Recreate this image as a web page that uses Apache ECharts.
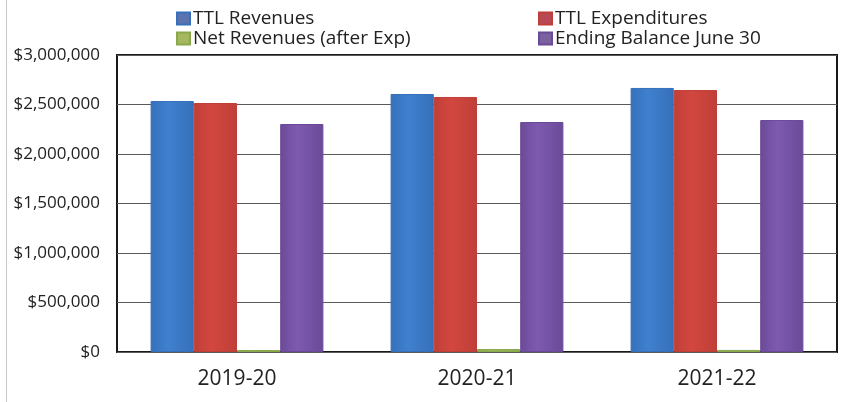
<!DOCTYPE html>
<html>
<head>
<meta charset="utf-8">
<script src="https://cdn.jsdelivr.net/npm/echarts@6/dist/echarts.min.js"></script>
<style>
  html, body { margin: 0; padding: 0; background: #fff; }
  #chart { width: 843px; height: 402px; }
</style>
</head>
<body>
<div id="chart"></div>
<script>
// fiscal years on the x axis
const years = ['2019-20', '2020-21', '2021-22'];

// values (dollars)
const ttlRevenues = [2535000, 2606000, 2667000];
const ttlExpenditures = [2515000, 2576000, 2646000];
const netRevenues = [20000, 30000, 21000];
const endingBalance = [2303000, 2323000, 2343000];

const SERIES = [
  { name: 'TTL Revenues', data: ttlRevenues, color: '#3f80cf', edge: '#3670bb', icon: '#5b74b0' },
  { name: 'TTL Expenditures', data: ttlExpenditures, color: '#d2473f', edge: '#bf3f38', icon: '#b84a55' },
  { name: 'Net Revenues (after Exp)', data: netRevenues, color: '#9bbb59', edge: '#8aa84c', icon: '#a5b860' },
  { name: 'Ending Balance June 30', data: endingBalance, color: '#7e5ab0', edge: '#6a4a98', icon: '#7a62a0' },
];

// legend laid out as 2x2 like the Excel original
const LEGEND_POS = [
  { left: 176, top: 9 },
  { left: 538, top: 9 },
  { left: 176, top: 29 },
  { left: 538, top: 29 },
];

const fmtMoney = (v) => '$' + v.toLocaleString('en-US');

const chart = echarts.init(document.getElementById('chart'));

const option = {
  backgroundColor: '#fff',
  animation: false,
  textStyle: { fontFamily: '"Open Sans", sans-serif' },
  legend: SERIES.map((s, i) => ({
    data: [{ name: s.name, itemStyle: { color: s.icon } }],
    left: LEGEND_POS[i].left,
    top: LEGEND_POS[i].top,
    padding: 0,
    icon: 'rect',
    itemWidth: 13,
    itemHeight: 12,
    itemGap: 0,
    selectedMode: false,
    textStyle: { fontSize: 19, color: '#222', fontFamily: '"Open Sans", sans-serif', padding: [0, 0, 0, -2] },
  })),
  grid: {
    left: 117,
    right: 6,
    top: 55,
    bottom: 50,
    show: true,
    borderColor: '#1a1a1a',
    borderWidth: 2,
    backgroundColor: '#fff',
  },
  xAxis: {
    type: 'category',
    data: years,
    axisLine: { show: false },
    axisTick: { show: false },
    axisLabel: { fontSize: 21, color: '#222', margin: 17 },
  },
  yAxis: {
    type: 'value',
    min: 0,
    max: 3000000,
    interval: 500000,
    axisLine: { show: false },
    axisTick: { show: false },
    axisLabel: { fontSize: 17, color: '#222', margin: 17, formatter: fmtMoney },
    splitLine: { lineStyle: { color: '#5a5a5a', width: 1 } },
  },
  series: SERIES.map((s) => ({
    name: s.name,
    type: 'bar',
    data: s.data,
    barGap: '0%',
    barCategoryGap: '28%',
    itemStyle: {
      color: new echarts.graphic.LinearGradient(0, 0, 1, 0, [
        { offset: 0, color: s.edge },
        { offset: 0.4, color: s.color },
        { offset: 1, color: s.edge },
      ]),
      borderColor: s.edge,
      borderWidth: 1,
    },
  })),
  graphic: [
    // faint outer chart-area border on the left edge
    { type: 'line', shape: { x1: 6.5, y1: 0, x2: 6.5, y2: 402 }, style: { stroke: '#c8c8c8', lineWidth: 1 }, silent: true },
  ],
};

chart.setOption(option);
</script>
</body>
</html>
